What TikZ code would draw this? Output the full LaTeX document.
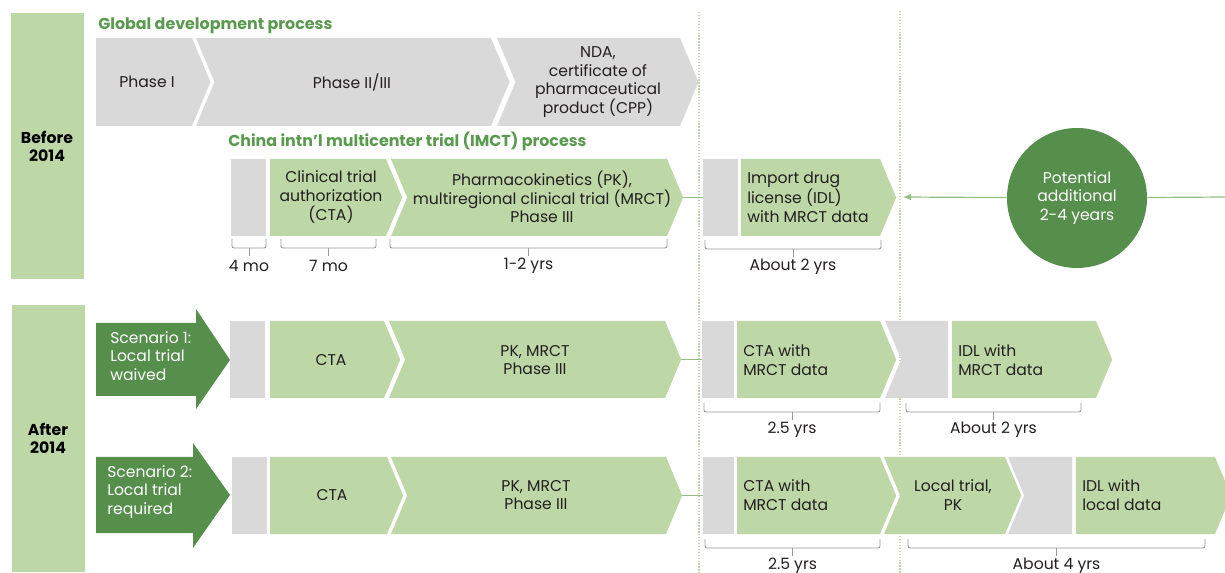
\documentclass[tikz,border=0pt]{standalone}
\usepackage{fontspec}
\setmainfont{Poppins}
\usepackage{xcolor}
\usetikzlibrary{calc,arrows.meta,positioning}

\definecolor{lgreen}{HTML}{BDD7A6}
\definecolor{dgreen}{HTML}{568E4C}
\definecolor{tgreen}{HTML}{5A9A4E}
\definecolor{boxgrey}{HTML}{D9D9D9}
\definecolor{ink}{HTML}{231F20}
\definecolor{bracegrey}{HTML}{9A9A9A}
\definecolor{linkgreen}{HTML}{93BF80}

% name, fill, x left, x corner, y top, y bottom, notch (0/1), tip (0/1)
\newcommand{\chev}[8]{%
  \pgfmathsetmacro\ymid{(#5+#6)/2}\pgfmathsetmacro\tipd{0.21*(#6-#5)}
  \fill[#2] (#3,#5) -- (#4,#5) -- (#4+#8*\tipd,\ymid) -- (#4,#6) -- (#3,#6) -- (#3+#7*\tipd,\ymid) -- cycle;
  \coordinate (#1) at (#4+#8*\tipd,\ymid);}
% name, x left, x right, y top, y bottom
\newcommand{\gbox}[5]{%
  \fill[boxgrey] (#2,#4) rectangle (#3,#5);
  \coordinate (#1) at (#2,{(#4+#5)/2});}
% name, x left, x right, y, label
\newcommand{\durbrace}[5]{%
  \draw[brk] (#2,#4-9) -- (#2,#4) -- (#3,#4) -- (#3,#4-9);
  \draw[brk] ({(#2+#3)/2},#4) -- ++(0,8);
  \node[txt] (#1) at ({(#2+#3)/2},#4+18) {#5};}

\begin{document}
\begin{tikzpicture}[x=0.75pt,y=-0.75pt,
  txt/.style={font=\fontsize{11.7}{14}\selectfont, text=ink, align=center, inner sep=0},
  ltxt/.style={txt, anchor=west, align=left},
  wtxt/.style={txt, text=white, anchor=west, align=left},
  ttl/.style={font=\fontsize{11.9}{15}\selectfont\bfseries, text=tgreen, anchor=base west, inner sep=0},
  side/.style={font=\fontsize{11.8}{13.5}\selectfont\bfseries, text=black, align=center, inner sep=0},
  brk/.style={draw=bracegrey, line width=0.7pt, rounded corners=1.5pt},
  link/.style={draw=linkgreen, line width=0.9pt},
  vdot/.style={draw=lgreen, line width=0.9pt, dash pattern=on 1pt off 1.2pt},
]
\useasboundingbox (0,0) rectangle (1225,573);
\clip (0,0) rectangle (1225,573);

% separators
\draw[vdot] (699,12) -- (699,573);
\draw[vdot] (900,11) -- (900,573);

% side bars
\fill[lgreen] (11,13) rectangle (84,279);
\fill[lgreen] (12,305) rectangle (85,572);
\node[side] (before) at (47,146) {Before\\2014};
\node[side] (after) at (48,438) {After\\2014};

% global process
\node[ttl] (gtitle) at (98,30) {Global development process};
\chev{p1}{boxgrey}{96}{192}{38}{126}{0}{1}
\chev{p2}{boxgrey}{196}{491}{38}{126}{1}{1}
\chev{p3}{boxgrey}{497}{680}{38}{126}{1}{1}
\node[txt] (phase1) at (147,82) {Phase I};
\node[txt] (phase23) at (352,82) {Phase II/III};
\node[txt] (nda) at (598,82) {NDA,\\certificate of\\pharmaceutical\\product (CPP)};

% IMCT process
\node[ttl] (ctitle) at (228,147) {China intn’l multicenter trial (IMCT) process};
\gbox{g1}{231}{266}{159}{236}
\chev{cta0}{lgreen}{270}{386}{159}{236}{0}{1}
\chev{pk0}{lgreen}{391}{667}{159}{236}{1}{1}
\gbox{g2}{703}{738}{159}{236}
\chev{idl0}{lgreen}{741}{880}{159}{236}{0}{1}
\draw[link] (pk0) -- (g2);
\node[txt] (cta0t) at (331,197) {Clinical trial\\authorization\\(CTA)};
\node[txt] (pk0t) at (542,197) {Pharmacokinetics (PK),\\multiregional clinical trial (MRCT)\\Phase III};
\node[ltxt] (idl0t) at (747,197) {Import drug\\license (IDL)\\with MRCT data};
\durbrace{d1}{232}{266}{248}{4 mo}
\durbrace{d2}{281}{376}{248}{7 mo}
\durbrace{d3}{390}{667}{248}{1-2 yrs}
\durbrace{d4}{705}{881}{249}{About 2 yrs}

% extra time
\node[circle, fill=dgreen, minimum size=105pt, inner sep=0, txt, text=white] (pot) at (1077,198) {Potential\\additional\\2-4 years};
\coordinate (arrend) at (903,197);
\coordinate (rend) at (1225,197);
\draw[link, -{Latex[length=6pt,width=5pt]}] (pot) -- (arrend);
\draw[link] (pot) -- (rend);

% scenario 1
\fill[dgreen] (96,323) -- (196,323) -- (196,309) -- (230,360) -- (196,409) -- (196,396) -- (96,396) -- cycle;
\node[wtxt] (sc1) at (110,356) {Scenario 1:\\Local trial\\waived};
\gbox{g3}{230}{265}{321}{398}
\chev{cta1}{lgreen}{270}{384}{321}{398}{0}{1}
\chev{pk1}{lgreen}{389}{665}{321}{398}{1}{1}
\gbox{g4}{702}{734}{321}{398}
\chev{mr1}{lgreen}{737}{880}{321}{398}{0}{1}
\chev{g5}{boxgrey}{885}{948}{321}{398}{1}{0}
\chev{idl1}{lgreen}{952}{1096}{321}{398}{0}{1}
\draw[link] (pk1) -- (g4);
\node[txt] (cta1t) at (331,360) {CTA};
\node[txt] (pk1t) at (535,360) {PK, MRCT\\Phase III};
\node[ltxt] (mr1t) at (743,360) {CTA with\\MRCT data};
\node[ltxt] (idl1t) at (958,360) {IDL with\\MRCT data};
\durbrace{d5}{704}{880}{412}{2.5 yrs}
\durbrace{d6}{906}{1081}{412}{About 2 yrs}

% scenario 2
\fill[dgreen] (96,457) -- (193,457) -- (193,443) -- (230,495) -- (193,548) -- (193,533) -- (96,533) -- cycle;
\node[wtxt] (sc2) at (107,492) {Scenario 2:\\Local trial\\required};
\gbox{g6}{232}{267}{457}{534}
\chev{cta2}{lgreen}{270}{387}{457}{534}{0}{1}
\chev{pk2}{lgreen}{391}{666}{457}{534}{1}{1}
\gbox{g7}{703}{734}{457}{534}
\chev{mr2}{lgreen}{737}{880}{457}{534}{0}{1}
\chev{loc2}{lgreen}{884}{1005}{457}{534}{1}{1}
\chev{g8}{boxgrey}{1008}{1072}{457}{534}{1}{0}
\chev{idl2}{lgreen}{1076}{1215}{457}{534}{0}{1}
\draw[link] (pk2) -- (g7);
\node[txt] (cta2t) at (332,495) {CTA};
\node[txt] (pk2t) at (536,495) {PK, MRCT\\Phase III};
\node[ltxt] (mr2t) at (743,495) {CTA with\\MRCT data};
\node[txt] (loc2t) at (953,495) {Local trial,\\PK};
\node[ltxt] (idl2t) at (1082,495) {IDL with\\local data};
\durbrace{d7}{705}{880}{548}{2.5 yrs}
\durbrace{d8}{908}{1205}{548}{About 4 yrs}
\end{tikzpicture}
\end{document}
